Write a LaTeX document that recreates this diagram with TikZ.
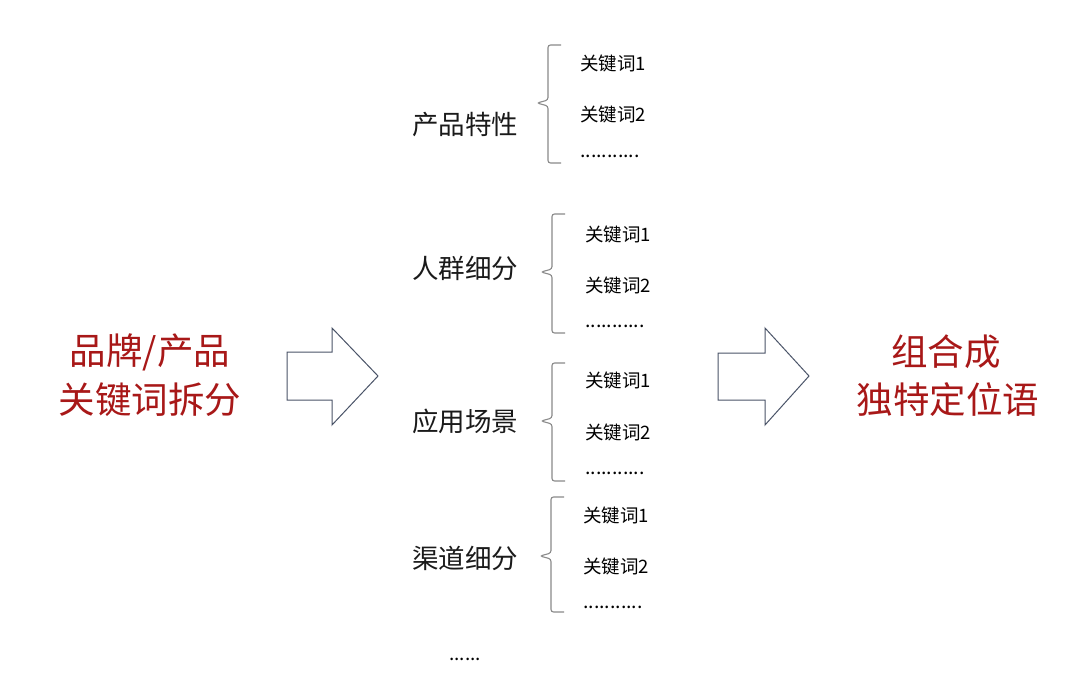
\documentclass[tikz,border=0pt]{standalone}
\usepackage{fontspec}
\setmainfont{Noto Sans CJK SC}
\definecolor{darkred}{HTML}{A81818}
\definecolor{braceg}{HTML}{8A8A8A}
\definecolor{arrowc}{HTML}{4A5468}
\definecolor{txt}{HTML}{1A1A1A}
\begin{document}
\begin{tikzpicture}[x=1pt,y=-1pt,
  bigred/.style={text=darkred,font=\fontsize{36.5}{44}\selectfont,align=center,inner sep=0pt},
  cat/.style={text=txt,font=\fontsize{26.5}{30}\selectfont,inner sep=0pt},
  item/.style={text=black,font=\fontsize{18.5}{22}\selectfont,anchor=west,inner sep=0pt},
  dots/.style={text=black,font=\fontsize{19.5}{22}\selectfont,anchor=west,inner sep=0pt},
  bracelines/.style={draw=braceg,line width=1.1pt,rounded corners=2.5pt},
  bigarrow/.style={draw=arrowc,line width=1pt,fill=white,line join=miter}]
\useasboundingbox (0,0) rectangle (1080,686);
\fill[white] (0,0) rectangle (1080,686);

% left and right texts
\node[bigred] (left1) at (150,352) {品牌/产品};
\node[bigred] (left2) at (150,400) {关键词拆分};
\node[bigred] (right1) at (946,352) {组合成};
\node[bigred] (right2) at (948,400) {独特定位语};

% big arrows
\draw[bigarrow] (287,352) -- (332,352) -- (332,328) -- (378,376) -- (332,425) -- (332,400) -- (287,400) -- cycle;
\draw[bigarrow] (718,353) -- (765,353) -- (765,328) -- (809,376) -- (765,425) -- (765,400) -- (718,400) -- cycle;

% categories
\node[cat] (c1) at (465,125) {产品特性};
\node[cat] (c2) at (465,268) {人群细分};
\node[cat] (c3) at (465,421) {应用场景};
\node[cat] (c4) at (465,558) {渠道细分};
\node[text=black,font=\fontsize{19}{22}\selectfont,inner sep=0pt] (more) at (465,659) {......};

% braces
\newcommand{\mybrace}[4]{% x, top, mid, bottom
  \draw[bracelines] (#1+13,#2) -- (#1,#2) -- (#1,#3-3) -- (#1-11,#3) -- (#1,#3+3) -- (#1,#4) -- (#1+13,#4);}
\mybrace{548}{45}{103}{163}
\mybrace{552}{214}{272}{333}
\mybrace{552}{363}{421}{481}
\mybrace{551}{497}{556}{612}

% items
\node[item] (g1a) at (580,63) {关键词1};
\node[item] (g1b) at (580,114) {关键词2};
\node[dots] (g1c) at (580,156) {...........};
\node[item] (g2a) at (585,234) {关键词1};
\node[item] (g2b) at (585,285) {关键词2};
\node[dots] (g2c) at (585,326) {...........};
\node[item] (g3a) at (585,380) {关键词1};
\node[item] (g3b) at (585,432) {关键词2};
\node[dots] (g3c) at (585,473) {...........};
\node[item] (g4a) at (583,515) {关键词1};
\node[item] (g4b) at (583,566) {关键词2};
\node[dots] (g4c) at (583,607) {...........};
\end{tikzpicture}
\end{document}
